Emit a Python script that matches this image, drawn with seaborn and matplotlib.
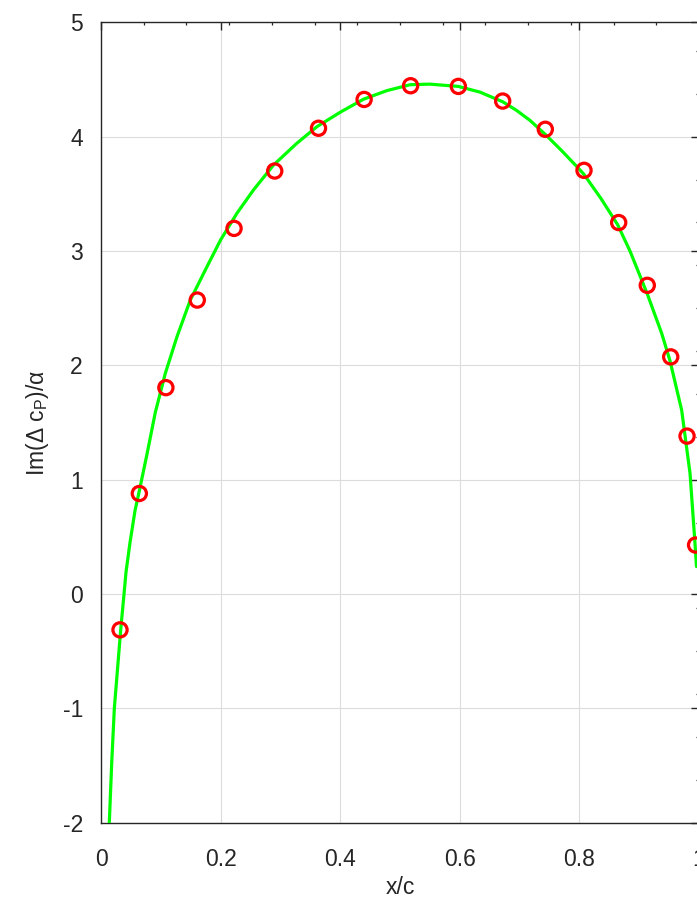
import numpy as np
import pandas as pd
import matplotlib
matplotlib.use("Agg")
import matplotlib.pyplot as plt
from matplotlib.ticker import FixedLocator
import seaborn as sns

# theory curve
line_x = [0.0139, 0.0179, 0.0223, 0.0330, 0.0385, 0.0418, 0.0485, 0.0569, 0.0640,
          0.0764, 0.0909, 0.1076, 0.1271, 0.1494, 0.1773, 0.2000, 0.2274, 0.2551,
          0.2886, 0.3276, 0.3611, 0.4000, 0.4389, 0.4780, 0.5170, 0.5500, 0.5976,
          0.6338, 0.6720, 0.6950, 0.7174, 0.7430, 0.7700, 0.8000, 0.8077, 0.8360,
          0.8640, 0.8846, 0.9135, 0.9376, 0.9515, 0.9710, 0.9850, 0.9933, 0.9958]
line_y = [-2.00, -1.48, -1.00, -0.31, 0.00, 0.19, 0.45, 0.73, 0.90,
          1.21, 1.59, 1.931, 2.251, 2.572, 2.864, 3.097, 3.331, 3.535,
          3.753, 3.943, 4.088, 4.214, 4.328, 4.403, 4.455, 4.460, 4.440,
          4.390, 4.305, 4.230, 4.143, 4.020, 3.880, 3.715, 3.670, 3.460,
          3.230, 3.000, 2.625, 2.280, 2.040, 1.608, 1.055, 0.443, 0.240]

# measured points
pts_x = [0.0318, 0.0641, 0.1085, 0.1610, 0.2225, 0.2905, 0.3637, 0.4400, 0.5177,
         0.5976, 0.6717, 0.7430, 0.8077, 0.8657, 0.9135, 0.9527, 0.9800, 0.9943]
pts_y = [-0.314, 0.879, 1.805, 2.571, 3.198, 3.700, 4.074, 4.326, 4.446,
         4.440, 4.312, 4.065, 3.706, 3.249, 2.700, 2.074, 1.381, 0.428]

x_ticks = [0, 0.2, 0.4, 0.6, 0.8, 1]
x_tick_labels = ["0", "0.2", "0.4", "0.6", "0.8", "1"]
y_ticks = [-2, -1, 0, 1, 2, 3, 4, 5]
y_tick_labels = ["-2", "-1", "0", "1", "2", "3", "4", "5"]

sns.set_theme(style="white")
plt.rcParams['font.family'] = ['Liberation Sans', 'DejaVu Sans']
plt.rcParams['mathtext.fontset'] = 'custom'
plt.rcParams['mathtext.rm'] = 'Liberation Sans'

dark = "#262626"
fig = plt.figure(figsize=(6.97, 9.07), dpi=100)
ax = fig.add_axes([101/697, 84.4/907, 598/697, 800.2/907])

df_line = pd.DataFrame({"x": line_x, "y": line_y})
df_pts = pd.DataFrame({"x": pts_x, "y": pts_y})

sns.lineplot(data=df_line, x="x", y="y", sort=False, color=(0, 1, 0),
             linewidth=2.3, ax=ax, zorder=3)
sns.scatterplot(data=df_pts, x="x", y="y", marker="o", s=105,
                facecolors="none", edgecolor=(1, 0, 0), linewidth=2.3,
                ax=ax, zorder=4)

ax.set_xlim(0, 1)
ax.set_ylim(-2, 5)
ax.set_xticks(x_ticks)
ax.set_xticklabels(x_tick_labels)
ax.set_yticks(y_ticks)
ax.set_yticklabels(y_tick_labels)
ax.xaxis.set_minor_locator(FixedLocator(np.arange(0, 1.001, 1/14)))
ax.yaxis.set_minor_locator(FixedLocator(np.arange(-2, 5.001, 0.375)))

ax.grid(True, which="major", color="#dcdcdc", linewidth=0.8)
ax.set_axisbelow(True)
for s in ax.spines.values():
    s.set_visible(True)
    s.set_color(dark)
    s.set_linewidth(1.0)
ax.tick_params(which="major", direction="in", length=5.8, width=1.0, color=dark,
               top=True, right=True, labelsize=16.5, labelcolor=dark)
ax.tick_params(which="minor", direction="in", length=2, width=0.9, color=dark,
               top=True, right=True)
ax.tick_params(axis="x", which="major", pad=18)
ax.tick_params(axis="y", which="major", pad=13)

ax.set_xlabel("x/c", fontsize=16.5, color=dark, labelpad=4)
ax.set_ylabel(r"Im(Δ c$_{\mathregular{P}}$)/α", fontsize=16.5, color=dark, labelpad=8)

fig.savefig("out.png", dpi=100)
